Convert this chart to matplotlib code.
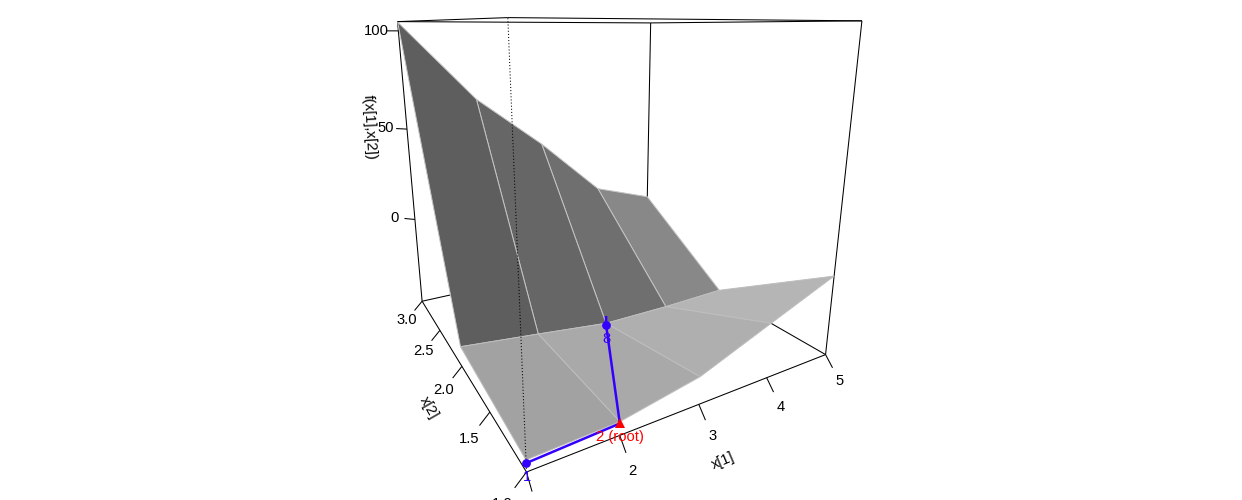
import numpy as np
import matplotlib
matplotlib.use('Agg')
import matplotlib.pyplot as plt

plt.rcParams['font.family'] = ['Liberation Sans', 'DejaVu Sans']

# surface grid, f[i][j] is x2 row i, x1 column j
x1_grid = [1, 2, 3, 4, 5]
x2_grid = [1, 2, 3]
f_grid = [[-44.0, -42.9, -36.0, -22.2, -8.5],
          [-38.9, -43.2, -47.7, -47.8, -46.9],
          [104.3, 63.4, 34.6, 1.7, -9.2]]

# box limits
x1_lim = [1, 5]
x2_lim = [1, 3]
z_lim = [-49, 104.5]

# ticks
x1_ticks = [1, 2, 3, 4, 5]
x2_ticks = [1.0, 1.5, 2.0, 2.5, 3.0]
z_ticks = [0, 50, 100]

# search path
path_x1 = [1, 2, 3, 3]
path_x2 = [1, 1, 2, 2]
path_f = [-45.3, -43.7, -48.5, -44.2]

# panel greys, back row then front row
back_greys = ['#5e5e5e', '#666666', '#6f6f6f', '#888888']
front_greys = ['#a2a2a2', '#a9a9a9', '#afafaf', '#b5b5b5']

# camera, same job as the matrix persp() hands back
P = np.array([[2.77227174e+02, 1.47300456e+02, -1.40973958e+00, 4.85886576e+02],
              [4.70195243e+00, 1.55171838e+01, -5.54871608e+00, 5.86080597e+02],
              [1.67300136e-01, 5.78963051e-01, -2.33087816e-03, 1.0]])

BLUE = '#3300ff'
FS = 10.6
TICK = 0.03
LABEL = 0.06
TITLE = 0.105


def proj(a, b, c):
    h = P @ np.array([a, b, c, 1.0])
    return h[0] / h[2], h[1] / h[2]


def seg(ax, p, q, **kw):
    u, v = zip(proj(*p), proj(*q))
    ax.plot(u, v, color='black', lw=0.75, solid_capstyle='butt', **kw)


fig = plt.figure(figsize=(12.42, 5), dpi=100)
ax = fig.add_axes([0, 0, 1, 1])
ax.set_xlim(0, 1242)
ax.set_ylim(500, 0)
ax.axis('off')

x0, x9 = x1_lim
y0, y9 = x2_lim
z0, z9 = z_lim
dx, dy, dz = x9 - x0, y9 - y0, z9 - z0

# back of the box
seg(ax, (x0, y9, z0), (x9, y9, z0), zorder=1)
seg(ax, (x9, y0, z0), (x9, y9, z0), zorder=1)
seg(ax, (x9, y9, z0), (x9, y9, z9), zorder=1)
seg(ax, (x0, y9, z9), (x9, y9, z9), zorder=1)
seg(ax, (x9, y0, z9), (x9, y9, z9), zorder=1)
seg(ax, (x0, y0, z0), (x0, y9, z0), zorder=1)
seg(ax, (x0, y9, z0), (x0, y9, z9), zorder=1)
seg(ax, (x9, y0, z0), (x9, y0, z9), zorder=1)

# panels, far ones first
zo = 2
for i, greys, edge in [(1, back_greys, '#c4c4c4'), (0, front_greys, '#bebebe')]:
    for j in range(3, -1, -1):
        corners = [(x1_grid[j], x2_grid[i], f_grid[i][j]),
                   (x1_grid[j + 1], x2_grid[i], f_grid[i][j + 1]),
                   (x1_grid[j + 1], x2_grid[i + 1], f_grid[i + 1][j + 1]),
                   (x1_grid[j], x2_grid[i + 1], f_grid[i + 1][j])]
        u, v = zip(*[proj(*c) for c in corners])
        ax.fill(u, v, facecolor=greys[j], edgecolor=edge, lw=0.7, zorder=zo)
        zo += 0.01

# front of the box
seg(ax, (x0, y0, z0), (x9, y0, z0), zorder=3)
seg(ax, (x0, y0, z9), (x9, y0, z9), zorder=3)
seg(ax, (x0, y0, z9), (x0, y9, z9), zorder=3)
seg(ax, (x0, y0, z0), (x0, y0, z9), zorder=3, ls=(0, (1, 2)))

# x1 axis
for t in x1_ticks:
    seg(ax, (t, y0, z0), (t, y0 - TICK * dy, z0 - TICK * dz), zorder=3)
    if t != 1:
        u, v = proj(t, y0 - LABEL * dy, z0 - LABEL * dz)
        ax.text(u, v, str(t), ha='center', va='center', fontsize=FS)
u, v = proj((x0 + x9) / 2, y0 - TITLE * dy, z0 - TITLE * dz)
ax.text(u, v, 'x[1]', ha='center', va='center', rotation=23, rotation_mode='anchor', fontsize=FS)

# x2 axis
for t in x2_ticks:
    seg(ax, (x0, t, z0), (x0 - TICK * dx, t, z0 - TICK * dz), zorder=3)
    u, v = proj(x0 - LABEL * dx, t, z0 - LABEL * dz)
    ax.text(u, v, '%.1f' % t, ha='center', va='center', fontsize=FS)
u, v = proj(x0 - TITLE * dx, (y0 + y9) / 2, z0 - TITLE * dz)
ax.text(u, v, 'x[2]', ha='center', va='center', rotation=-60, rotation_mode='anchor', fontsize=FS)

# z axis
for t in z_ticks:
    seg(ax, (x0, y9, t), (x0 - TICK * dx, y9 + TICK * dy, t), zorder=3)
    u, v = proj(x0 - LABEL * dx, y9 + LABEL * dy, t)
    ax.text(u, v, str(t), ha='center', va='center', fontsize=FS)
u, v = proj(x0 - TITLE * dx, y9 + TITLE * dy, 50)
ax.text(u, v, 'f(x[1],x[2])', ha='center', va='center', rotation=-87, rotation_mode='anchor', fontsize=FS)

# path and its labels
pu, pv = zip(*[proj(a, b, c) for a, b, c in zip(path_x1, path_x2, path_f)])
ax.plot(pu, pv, color=BLUE, lw=1.8, zorder=5)
ax.plot(pu[0], pv[0], 'o', color=BLUE, ms=6.3, mew=0, zorder=6)
ax.plot(pu[2], pv[2], 'o', color=BLUE, ms=6.3, mew=0, zorder=6)
ax.plot(pu[1], pv[1], '^', color='#ff0000', ms=6.5, mew=0, zorder=6)
ax.annotate('1', (pu[0], pv[0]), xytext=(0.7, -10), textcoords='offset points', color=BLUE,
            ha='center', va='center', fontsize=FS, zorder=7)
ax.annotate('8', (pu[2], pv[2]), xytext=(0, -10), textcoords='offset points', color=BLUE,
            ha='center', va='center', fontsize=FS, zorder=7)
ax.annotate('2 (root)', (pu[1], pv[1]), xytext=(0, -10), textcoords='offset points', color='#ff0000',
            ha='center', va='center', fontsize=FS, zorder=7)

fig.savefig('out.png', dpi=100)
